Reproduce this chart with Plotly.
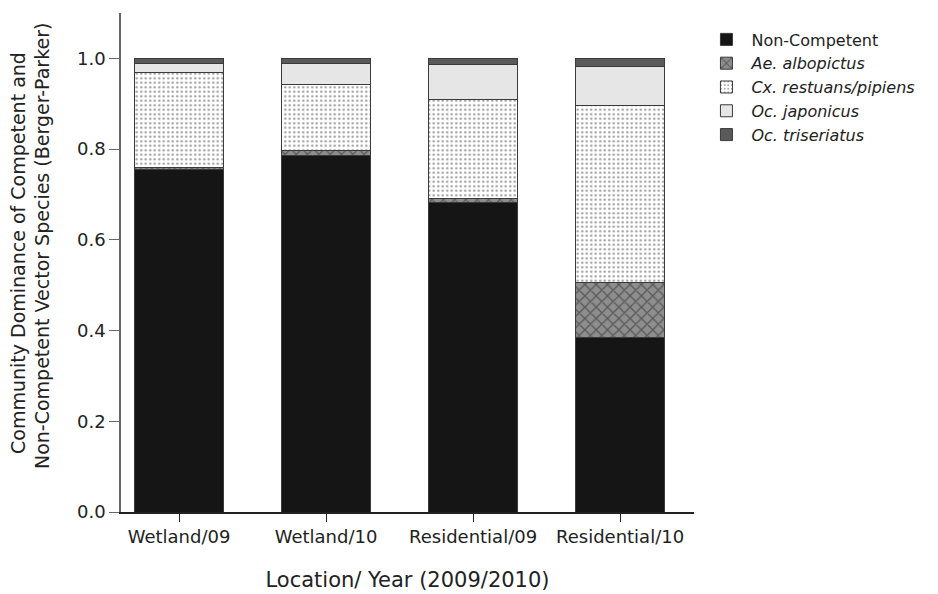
import plotly.graph_objects as go

categories = ["Wetland/09", "Wetland/10", "Residential/09", "Residential/10"]
non_competent = [0.755, 0.785, 0.683, 0.385]
ae_albopictus = [0.005, 0.012, 0.008, 0.120]
cx_restuans = [0.208, 0.146, 0.218, 0.391]
oc_japonicus = [0.020, 0.045, 0.077, 0.085]
oc_triseriatus = [0.012, 0.012, 0.014, 0.019]

y_title_lines = ["Community Dominance of Competent and",
                 "Non-Competent Vector Species (Berger-Parker)"]
x_title = "Location/ Year (2009/2010)"

FONT = "DejaVu Sans, Liberation Sans, Arial, sans-serif"
TXT = "#222222"
EDGE = dict(color="#3a3a3a", width=1)

fig = go.Figure()
fig.add_bar(x=categories, y=non_competent, name="Non-Competent",
            marker=dict(color="#151515", line=EDGE))
fig.add_bar(x=categories, y=ae_albopictus, name="<i>Ae. albopictus</i>",
            marker=dict(color="#8e8e8e", line=EDGE,
                        pattern=dict(shape="x", fgcolor="#222222", bgcolor="#8e8e8e",
                                     size=8, solidity=0.3)))
fig.add_bar(x=categories, y=cx_restuans, name="<i>Cx. restuans/pipiens</i>",
            marker=dict(color="#ffffff", line=EDGE,
                        pattern=dict(shape=".", fgcolor="#333333", bgcolor="#ffffff",
                                     size=4.5, solidity=0.22)))
fig.add_bar(x=categories, y=oc_japonicus, name="<i>Oc. japonicus</i>",
            marker=dict(color="#e6e6e6", line=EDGE))
fig.add_bar(x=categories, y=oc_triseriatus, name="<i>Oc. triseriatus</i>",
            marker=dict(color="#5a5a5a", line=EDGE))

fig.update_layout(
    width=938, height=594,
    barmode="stack", bargap=0.4,
    plot_bgcolor="white", paper_bgcolor="white",
    margin=dict(l=121, r=244, t=13, b=82, autoexpand=False),
    font=dict(family=FONT, size=18, color=TXT),
    legend=dict(x=1.013, xanchor="left", y=0.981, yanchor="top",
                traceorder="normal", font=dict(size=16, color=TXT),
                itemwidth=40, tracegroupgap=0, bgcolor="rgba(0,0,0,0)"),
    xaxis=dict(range=[-0.395, 3.503], showline=True, linecolor="#222222", linewidth=1.5,
               ticks="outside", ticklen=8, tickcolor="#222222",
               tickfont=dict(size=18), automargin=False,
               title=dict(text=x_title, font=dict(size=21), standoff=26),
               showgrid=False, zeroline=False),
    yaxis=dict(range=[0, 1.1], showline=True, linecolor="#666666", linewidth=1.5,
               ticks="outside", ticklen=10, tickcolor="#666666",
               tickvals=[0, 0.2, 0.4, 0.6, 0.8, 1.0], tickformat=".1f",
               tickfont=dict(size=18), automargin=False,
               showgrid=False, zeroline=False),
)

for txt, xp, yp in zip(y_title_lines, [-0.1798, -0.1379], [0.519, 0.533]):
    fig.add_annotation(text=txt, xref="paper", yref="paper", x=xp, y=yp,
                       xanchor="center", yanchor="middle", textangle=-90,
                       showarrow=False, font=dict(size=19, color=TXT))

fig.write_html("out.html", config={"displayModeBar": False},
               post_script="document.body.style.margin='0';")
